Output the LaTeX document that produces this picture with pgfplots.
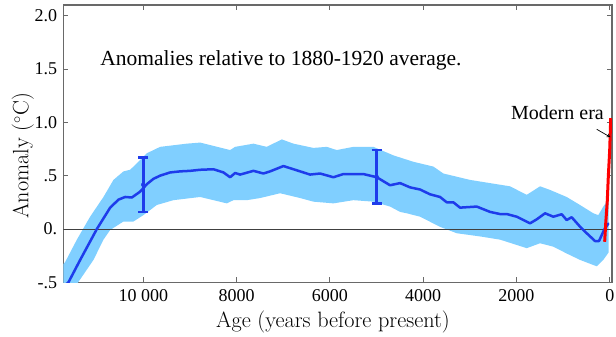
\documentclass[border=0pt]{standalone}
\usepackage{fontspec}
\usepackage{pgfplots}
\pgfplotsset{compat=1.18}
\newfontfamily\timesf{Liberation Serif}
\definecolor{band}{RGB}{128,207,255}
\definecolor{lineblue}{RGB}{30,60,235}
\definecolor{axgray}{RGB}{105,105,105}
\begin{document}
\begin{tikzpicture}
\begin{axis}[
  scale only axis, width=548.7pt, height=277.3pt,
  x dir=reverse, xmin=-47, xmax=11714, ymin=-0.5, ymax=2.1,
  scaled x ticks=false, scaled y ticks=false,
  axis line style={axgray, line width=1.1pt},
  tick style={axgray, line width=0.8pt}, tick align=inside, major tick length=5pt,
  xtick={0,2000,4000,6000,8000,10000},
  xticklabels={0,2000,4000,6000,8000,10~000},
  ytick={-0.5,0,0.5,1,1.5,2},
  yticklabels={-.5,0.,.5,1.0,1.5,2.0},
  minor tick num=0,
  tick label style={font=\timesf\fontsize{18}{20}\selectfont},
  xticklabel style={anchor=base, yshift=-19.4pt},
  yticklabel style={anchor=east, inner sep=0pt, xshift=-6pt},
  xlabel={Age (years before present)},
  ylabel={Anomaly ($^\circ$C)},
  label style={font=\fontsize{22.2}{26}\selectfont},
  xlabel style={at={(axis description cs:0.4915,-0.1637)}, anchor=base},
  ylabel style={at={(axis description cs:-0.0638,0.456)}, anchor=base, rotate=0},
]
% uncertainty band
\addplot[fill=band, draw=none] coordinates {
(11800,-0.38) (11714,-0.33) (11674,-0.31) (11423,-0.10) (11139,0.115) (10853,0.30)
(10639,0.46) (10424,0.54) (10281,0.555) (10137,0.616) (9923,0.71) (9638,0.77)
(9066,0.80) (8781,0.81) (8138,0.74) (8031,0.77) (7638,0.80) (7353,0.77) (7031,0.84)
(6781,0.80) (6353,0.76) (6067,0.77) (5853,0.74) (5496,0.77) (5067,0.77) (4638,0.69)
(4210,0.63) (4067,0.615) (3781,0.585) (3567,0.52) (3281,0.49) (2995,0.46) (2567,0.43)
(2138,0.40) (1781,0.32) (1495,0.40) (1281,0.366) (924,0.30) (639,0.225) (353,0.147)
(246,0.13) (139,0.21) (25,0.28)
(25,-0.22) (139,-0.29) (281,-0.35) (639,-0.29) (924,-0.23) (1210,-0.166) (1495,-0.134)
(1781,-0.18) (2353,-0.10) (2781,-0.07) (3281,-0.04) (3639,0.02) (4067,0.115) (4352,0.147)
(4495,0.16) (4710,0.21) (5067,0.256) (5496,0.27) (5924,0.24) (6353,0.256) (6638,0.29)
(7067,0.335) (7495,0.29) (7781,0.27) (8067,0.27) (8209,0.24) (8781,0.30) (9353,0.27)
(9709,0.225) (9996,0.13) (10210,0.07) (10424,0.07) (10710,-0.01) (10853,-0.10)
(11067,-0.29) (11395,-0.50) (11714,-0.75) (11800,-0.80)
} -- cycle;
% zero line
\addplot[black!75, line width=0.8pt] coordinates {(11800,0) (-100,0)};
% mean curve
\addplot[lineblue, line width=2.5pt, line join=round, line cap=round] coordinates {
(11800,-0.58) (11714,-0.54) (11603,-0.50) (11352,-0.29) (10994,0.0) (10709,0.20)
(10531,0.275) (10388,0.30) (10245,0.295) (10067,0.35) (9923,0.42) (9782,0.47)
(9638,0.50) (9424,0.53) (9210,0.54) (8995,0.545) (8781,0.555) (8495,0.56) (8281,0.53)
(8138,0.485) (8031,0.525) (7924,0.51) (7638,0.545) (7424,0.52) (7281,0.54) (6996,0.59)
(6709,0.55) (6424,0.51) (6210,0.52) (5924,0.485) (5710,0.515) (5282,0.515) (4995,0.485)
(4710,0.41) (4495,0.43) (4281,0.39) (4067,0.37) (3853,0.325) (3639,0.30) (3495,0.25)
(3353,0.25) (3210,0.20) (2852,0.21) (2567,0.16) (2353,0.14) (2210,0.14) (1995,0.115)
(1710,0.053) (1567,0.09) (1388,0.147) (1210,0.115) (1031,0.138) (924,0.084) (817,0.11)
(639,0.022) (495,-0.04) (317,-0.113) (231,-0.113) (124,-0.01) (32,0.05)
};
% error bars
\addplot[lineblue, only marks, mark=none,
  error bars/.cd, y dir=both, y explicit,
  error bar style={line width=2.5pt, lineblue},
  error mark options={rotate=90, mark size=5pt, line width=2.5pt, lineblue}]
  coordinates {(10000,0.415) +- (0,0.255) (5000,0.49) +- (0,0.25)};
% modern era
\addplot[red, line width=3pt, line join=round] coordinates {
(110,-0.12) (88,0.05) (67,0.18) (53,0.27) (32,0.49) (2,0.74) (-20,1.04)
};
\node[anchor=base west, inner sep=0pt, font=\timesf\fontsize{21.5}{24}\selectfont]
  at (axis cs:10924,1.532) {Anomalies relative to 1880-1920 average.};
\node[anchor=base east, inner sep=0pt, font=\timesf\fontsize{20}{24}\selectfont]
  at (axis cs:124,1.029) {Modern era};
\draw[->, >=stealth, black, line width=0.7pt] (axis cs:281,0.935) -- (axis cs:-15,0.86);
\end{axis}
\pgfresetboundingbox
\path (current axis.south west) ++(-63.3pt,-54.7pt) rectangle ++(616pt,337pt);
\end{tikzpicture}
\end{document}
